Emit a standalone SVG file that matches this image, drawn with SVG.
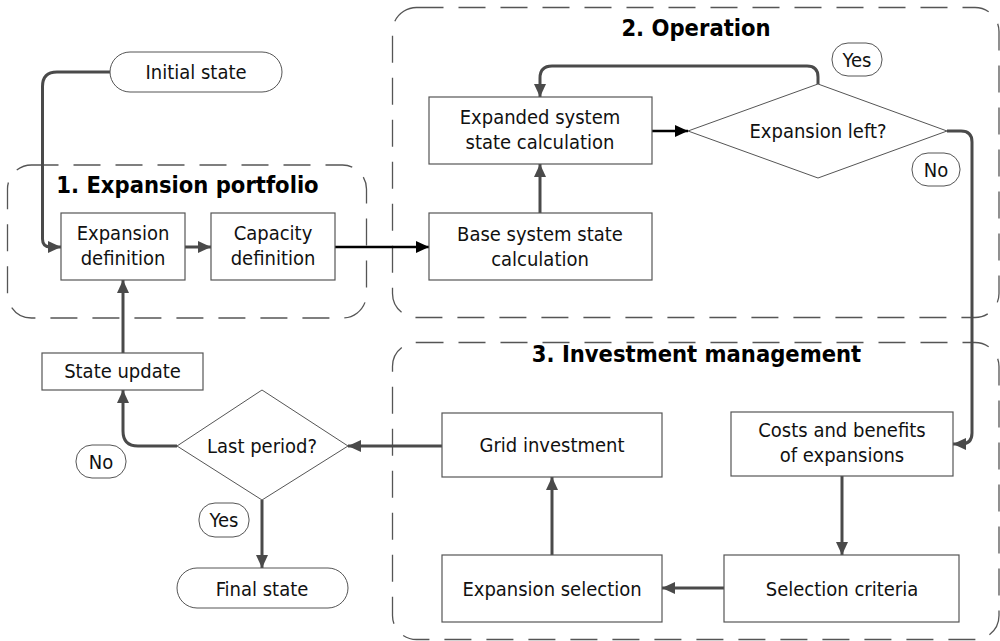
<svg xmlns="http://www.w3.org/2000/svg" width="1000" height="641" viewBox="0 0 1000 641">
  <defs>
    <style>
      text { font-family: "DejaVu Sans Condensed", "DejaVu Sans", "Liberation Sans", sans-serif; font-stretch: condensed; font-size: 20px; fill: #111; text-anchor: middle; }
      .title { font-weight: bold; font-size: 23.5px; fill: #000; }
      .group { fill: none; stroke: #555; stroke-width: 1.3; stroke-dasharray: 27 15; }
      .box { fill: #fff; stroke: #555; stroke-width: 1.2; }
      .pill { fill: #fff; stroke: #555; stroke-width: 1; }
      .diamond { fill: #fff; stroke: #555; stroke-width: 1; }
      .flow { fill: none; stroke: #4a4a4a; stroke-width: 3; marker-end: url(#arrow); }
      .flow-dark { fill: none; stroke: #000; stroke-width: 2.5; marker-end: url(#arrow-dark); }
    </style>
    <marker id="arrow" markerUnits="userSpaceOnUse" markerWidth="14" markerHeight="12" refX="13" refY="6" orient="auto">
      <path d="M0,0 L13,6 L0,12 z" fill="#4a4a4a"/>
    </marker>
    <marker id="arrow-dark" markerUnits="userSpaceOnUse" markerWidth="14" markerHeight="12" refX="13" refY="6" orient="auto">
      <path d="M0,0 L13,6 L0,12 z" fill="#000"/>
    </marker>
  </defs>

  <rect width="1000" height="641" fill="#fff"/>

  <!-- Dashed stage groups -->
  <g id="group-expansion-portfolio">
    <rect class="group" x="7.5" y="165" width="359" height="153" rx="24" ry="24"/>
    <text class="title" x="187.5" y="193">1. Expansion portfolio</text>
  </g>
  <g id="group-operation">
    <rect class="group" x="392.5" y="7.5" width="606.5" height="310" rx="24" ry="24"/>
    <text class="title" x="696" y="36">2. Operation</text>
  </g>
  <g id="group-investment-management">
    <rect class="group" x="392.5" y="342.5" width="606.5" height="297" rx="24" ry="24"/>
    <text class="title" x="696.5" y="362">3. Investment management</text>
  </g>

  <!-- Connectors -->
  <g id="connectors">
    <path class="flow" d="M110,72 H57 Q42.5,72 42.5,86.5 V239 Q42.5,247 50.5,247 H61"/>
    <path class="flow" d="M185,247 H211"/>
    <path class="flow-dark" d="M335,247 H429"/>
    <path class="flow" d="M540,213 V164"/>
    <path class="flow-dark" d="M652,131 H688"/>
    <path class="flow" d="M818,84 V77 Q818,66 807,66 H552 Q540,66 540,78 V97"/>
    <path class="flow" d="M947,131 H961 Q972,131 972,142 V433 Q972,444 961,444 H953"/>
    <path class="flow" d="M842,476 V555"/>
    <path class="flow" d="M724,588 H662"/>
    <path class="flow" d="M552,555 V477"/>
    <path class="flow" d="M442,446 H348"/>
    <path class="flow" d="M177,446 H138 Q123,446 123,431 V390"/>
    <path class="flow" d="M262,500 V568"/>
    <path class="flow" d="M123,353 V280"/>
  </g>

  <!-- Nodes -->
  <g id="initial-state">
    <rect class="pill" x="110" y="52" width="172" height="40" rx="20" ry="20"/>
    <text x="196" y="78.5">Initial state</text>
  </g>
  <g id="expansion-definition">
    <rect class="box" x="61" y="213" width="124" height="67"/>
    <text x="123" y="240">Expansion</text>
    <text x="123" y="265">definition</text>
  </g>
  <g id="capacity-definition">
    <rect class="box" x="211" y="213" width="124" height="67"/>
    <text x="273" y="240">Capacity</text>
    <text x="273" y="265">definition</text>
  </g>
  <g id="expanded-system-state">
    <rect class="box" x="429" y="97" width="223" height="67"/>
    <text x="540" y="124">Expanded system</text>
    <text x="540" y="149">state calculation</text>
  </g>
  <g id="base-system-state">
    <rect class="box" x="429" y="213" width="223" height="67"/>
    <text x="540" y="241">Base system state</text>
    <text x="540" y="266">calculation</text>
  </g>
  <g id="expansion-left">
    <polygon class="diamond" points="818,84 947,131 818,178 688,131"/>
    <text x="818" y="137.5">Expansion left?</text>
  </g>
  <g id="label-yes-operation">
    <rect class="pill" x="832" y="43" width="50" height="33" rx="16" ry="16"/>
    <text x="857" y="66.5">Yes</text>
  </g>
  <g id="label-no-operation">
    <rect class="pill" x="912" y="153" width="48" height="33" rx="16" ry="16"/>
    <text x="936" y="176.5">No</text>
  </g>
  <g id="costs-benefits">
    <rect class="box" x="731" y="412" width="222" height="64"/>
    <text x="842" y="437">Costs and benefits</text>
    <text x="842" y="462">of expansions</text>
  </g>
  <g id="selection-criteria">
    <rect class="box" x="724" y="555" width="235" height="67"/>
    <text x="842" y="595.5">Selection criteria</text>
  </g>
  <g id="expansion-selection">
    <rect class="box" x="442" y="555" width="220" height="67"/>
    <text x="552" y="595.5">Expansion selection</text>
  </g>
  <g id="grid-investment">
    <rect class="box" x="442" y="413" width="220" height="64"/>
    <text x="552" y="452">Grid investment</text>
  </g>
  <g id="last-period">
    <polygon class="diamond" points="262,390 348,446 262,500 177,446"/>
    <text x="262" y="452.5">Last period?</text>
  </g>
  <g id="label-no-period">
    <rect class="pill" x="76" y="445" width="50" height="33" rx="16" ry="16"/>
    <text x="101" y="468.5">No</text>
  </g>
  <g id="label-yes-period">
    <rect class="pill" x="199" y="503" width="50" height="34" rx="16" ry="16"/>
    <text x="224" y="527">Yes</text>
  </g>
  <g id="final-state">
    <rect class="pill" x="177" y="568" width="171" height="40" rx="20" ry="20"/>
    <text x="262" y="595.5">Final state</text>
  </g>
  <g id="state-update">
    <rect class="box" x="42" y="353" width="161" height="37"/>
    <text x="122.5" y="377.5">State update</text>
  </g>
</svg>
